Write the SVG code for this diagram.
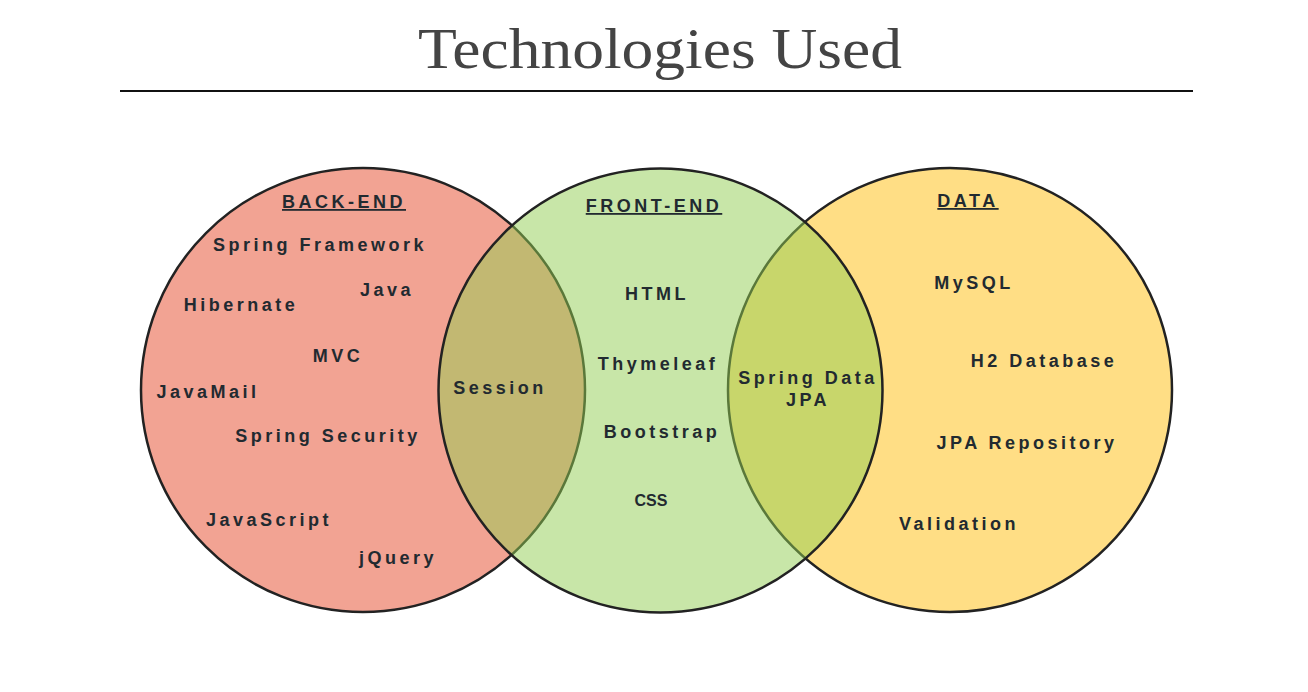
<svg xmlns="http://www.w3.org/2000/svg" width="1308" height="692" viewBox="0 0 1308 692">
<style>
.t{font-family:"Liberation Sans",Arial,sans-serif;font-weight:bold;font-size:18px;letter-spacing:3.5px;fill:#222a30;text-anchor:middle}
.h{text-decoration:underline}
.c{stroke:#222;stroke-width:2.5}
</style>
<rect width="1308" height="692" fill="#fff"/>
<text x="660" y="68" font-family="Liberation Serif,Times New Roman,serif" font-size="56" fill="#444" text-anchor="middle" textLength="484" lengthAdjust="spacingAndGlyphs">Technologies Used</text>
<line x1="120" y1="91" x2="1193" y2="91" stroke="#111" stroke-width="2"/>
<g id="backend">
<circle class="c" cx="363" cy="390" r="222" fill="#f2a393"/>
</g>
<g id="data">
<circle class="c" cx="950" cy="390" r="222" fill="#ffde85"/>
</g>
<g id="frontend">
<circle class="c" cx="660.5" cy="390.5" r="222" fill="#91cd51" fill-opacity="0.5"/>
</g>
<g id="labels">
<text class="t h" x="344" y="208">BACK-END</text>
<text class="t" x="320" y="251">Spring Framework</text>
<text class="t" x="387" y="296">Java</text>
<text class="t" x="241" y="311">Hibernate</text>
<text class="t" x="338" y="362">MVC</text>
<text class="t" x="208" y="398">JavaMail</text>
<text class="t" x="328" y="442">Spring Security</text>
<text class="t" x="269" y="526">JavaScript</text>
<text class="t" x="398" y="564">jQuery</text>
<text class="t" x="500" y="394">Session</text>
<text class="t h" x="654" y="212">FRONT-END</text>
<text class="t" x="657" y="300">HTML</text>
<text class="t" x="658" y="370">Thymeleaf</text>
<text class="t" x="662" y="438">Bootstrap</text>
<text class="t" x="651" y="506" style="letter-spacing:0;font-size:16px">CSS</text>
<text class="t" x="808" y="384">Spring Data</text>
<text class="t" x="808" y="406">JPA</text>
<text class="t h" x="968" y="207">DATA</text>
<text class="t" x="974" y="289">MySQL</text>
<text class="t" x="1044" y="367">H2 Database</text>
<text class="t" x="1027" y="449">JPA Repository</text>
<text class="t" x="959" y="530">Validation</text>
</g>
</svg>
